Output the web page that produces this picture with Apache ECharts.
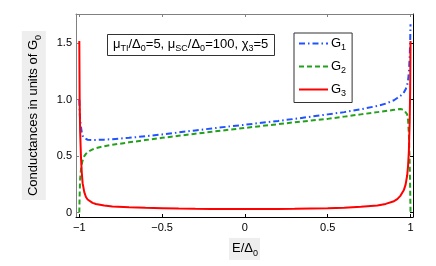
<!DOCTYPE html>
<html><head><meta charset="utf-8">
<script src="https://cdn.jsdelivr.net/npm/echarts@6/dist/echarts.min.js"></script>
<style>html,body{margin:0;padding:0;background:#fff}#c{width:436px;height:266px}</style>
</head><body><div id="c"></div>
<script>
const E  = [-1, -0.998, -0.995, -0.99, -0.985, -0.98, -0.97, -0.96, -0.95, -0.94, -0.92, -0.9, -0.85, -0.8, -0.7, -0.6, -0.5, -0.4, -0.3, -0.2, -0.1, 0, 0.1, 0.2, 0.3, 0.4, 0.5, 0.6, 0.7, 0.8, 0.85, 0.9, 0.92, 0.94, 0.96, 0.97, 0.98, 0.985, 0.99, 0.995, 0.998, 1];
const G1 = [1.0, 0.9, 0.82, 0.76, 0.71, 0.68, 0.66, 0.65, 0.645, 0.643, 0.642, 0.643, 0.646, 0.65, 0.662, 0.676, 0.692, 0.71, 0.728, 0.745, 0.762, 0.778, 0.795, 0.812, 0.83, 0.85, 0.87, 0.89, 0.915, 0.945, 0.965, 0.995, 1.015, 1.035, 1.065, 1.09, 1.13, 1.17, 1.24, 1.38, 1.52, 1.67];
const G2 = [0.0, 0.15, 0.3, 0.38, 0.43, 0.46, 0.5, 0.52, 0.535, 0.545, 0.56, 0.57, 0.588, 0.6, 0.622, 0.642, 0.662, 0.68, 0.698, 0.716, 0.733, 0.75, 0.767, 0.783, 0.8, 0.815, 0.83, 0.85, 0.87, 0.89, 0.9, 0.91, 0.915, 0.918, 0.91, 0.9, 0.87, 0.82, 0.7, 0.45, 0.2, 0.0];
const G3 = [1.52, 1.0, 0.72, 0.49, 0.35, 0.26, 0.18, 0.137, 0.115, 0.1, 0.085, 0.075, 0.062, 0.054, 0.046, 0.041, 0.038, 0.035, 0.033, 0.032, 0.031, 0.031, 0.031, 0.032, 0.033, 0.035, 0.037, 0.042, 0.05, 0.062, 0.076, 0.1, 0.118, 0.15, 0.2, 0.245, 0.33, 0.41, 0.54, 0.8, 1.1, 1.52];
const xTicks = [-1, -0.5, 0, 0.5, 1];
const yTicks = [0, 0.5, 1, 1.5];
const seriesNames = ['G1', 'G2', 'G3'];

const FONT = '"Liberation Sans", Arial, Helvetica, sans-serif';
const rich = {
  n: {fontSize: 13, fontFamily: FONT, fontWeight: 'normal', color: '#000', lineHeight: 18},
  s: {fontSize: 9, fontFamily: FONT, fontWeight: 'normal', color: '#000', lineHeight: 10, verticalAlign: 'bottom'}
};
const pair = (ys) => E.map((x, i) => [x, ys[i]]);
const XMIN = -1.02, XMAX = 1.015, YMIN = -0.04, YMAX = 1.76;

const chart = echarts.init(document.getElementById('c'), null, {renderer: 'canvas'});
chart.setOption({
  animation: false,
  backgroundColor: '#fff',
  title: {
    text: '{n|μ}{s|TI}{n|/Δ}{s|0}{n|=5, μ}{s|SC}{n|/Δ}{s|0}{n|=100, χ}{s|3}{n|=5}',
    left: 107, top: 32,
    padding: [3, 6, 3, 6],
    borderColor: '#333', borderWidth: 1, backgroundColor: '#fff',
    textStyle: {fontWeight: 'normal', rich: rich}
  },
  legend: {
    data: seriesNames,
    orient: 'vertical',
    left: 294, top: 33,
    padding: [4, 6, 4, 4],
    itemWidth: 29, itemHeight: 14, itemGap: 7.5,
    borderColor: '#333', borderWidth: 1, backgroundColor: '#fff',
    itemStyle: {opacity: 0},
    formatter: (name) => '{n|G}{s|' + name.slice(1) + '}',
    textStyle: {rich: rich, padding: [0, 0, 0, -2]}
  },
  grid: {left: 76, right: 23, top: 14, bottom: 49},
  xAxis: [{
    type: 'value', min: XMIN, max: XMAX, position: 'bottom',
    name: '{n|E/Δ}{s|0}', nameLocation: 'middle', nameGap: 14,
    nameTextStyle: {rich: rich, backgroundColor: '#eeeeee', padding: [2, 2, 2, 3]},
    axisLine: {onZero: false, lineStyle: {color: '#000', width: 1}},
    axisTick: {inside: true, length: 3, customValues: xTicks, lineStyle: {color: '#000'}},
    axisLabel: {customValues: xTicks, margin: 5, fontSize: 11, fontFamily: FONT, color: '#000',
      formatter: (v) => v === 0 ? '0' : (v < 0 ? '\u2212' + String(-v) : String(v))},
    splitLine: {show: false}
  }, {
    type: 'value', min: XMIN, max: XMAX, position: 'top',
    axisLine: {onZero: false, lineStyle: {color: '#808080', width: 1}},
    axisTick: {inside: true, length: 3, customValues: xTicks, lineStyle: {color: '#808080'}},
    axisLabel: {show: false},
    splitLine: {show: false}
  }],
  yAxis: [{
    type: 'value', min: YMIN, max: YMAX, position: 'left',
    name: '{n|Conductances in units of G}{s|0}', nameLocation: 'middle', nameGap: 22,
    nameTextStyle: {rich: rich, backgroundColor: '#eeeeee', padding: [3, 4, 3, 4]},
    axisLine: {onZero: false, lineStyle: {color: '#808080', width: 1}},
    axisTick: {inside: true, length: 3, customValues: yTicks, lineStyle: {color: '#808080'}},
    axisLabel: {customValues: yTicks, margin: 4, fontSize: 11, fontFamily: FONT, color: '#000',
      formatter: (v) => v === 0 ? '0' : v.toFixed(1)},
    splitLine: {show: false}
  }, {
    type: 'value', min: YMIN, max: YMAX, position: 'right',
    axisLine: {onZero: false, lineStyle: {color: '#000', width: 1}},
    axisTick: {inside: true, length: 3, customValues: yTicks, lineStyle: {color: '#000'}},
    axisLabel: {show: false},
    splitLine: {show: false}
  }],
  series: [{
    name: 'G1', type: 'line', data: pair(G1), symbol: 'none', xAxisIndex: 0, yAxisIndex: 0,
    lineStyle: {color: '#2152ff', width: 2, type: [6, 3, 1.5, 3]}, itemStyle: {color: '#2152ff'}
  }, {
    name: 'G2', type: 'line', data: pair(G2), symbol: 'none', xAxisIndex: 0, yAxisIndex: 0,
    lineStyle: {color: '#24a11c', width: 2, type: [5, 3]}, itemStyle: {color: '#24a11c'}
  }, {
    name: 'G3', type: 'line', data: pair(G3), symbol: 'none', xAxisIndex: 0, yAxisIndex: 0,
    lineStyle: {color: '#ff0000', width: 2}, itemStyle: {color: '#ff0000'}
  }]
});
</script>
</body></html>
